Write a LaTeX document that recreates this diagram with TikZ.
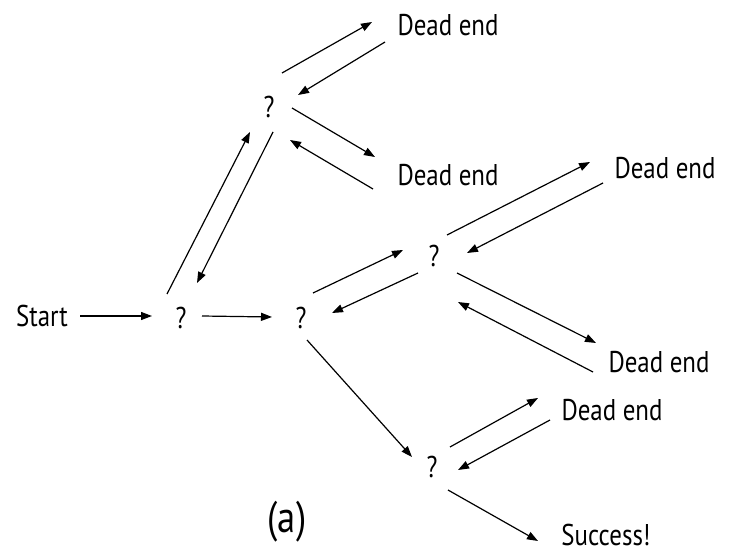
\documentclass[tikz,border=0pt]{standalone}
\usepackage{fontspec}
\setmainfont{PT Sans}[FakeStretch=0.83]
\usetikzlibrary{arrows.meta}
\tikzset{
  arr/.style={-{Triangle[length=11pt,width=8pt]}, line width=1.2pt},
}
\begin{document}
\begin{tikzpicture}[x=1pt, y=-1pt, font=\fontsize{30}{35}\selectfont]
\useasboundingbox (0,0) rectangle (731,556);
\node(S) at (42,316) {Start};
\node(q1) at (181,318) {?};
\node(q2) at (301,318) {?};
\node(q3) at (269,107) {?};
\node(q4) at (434,256) {?};
\node(q5) at (432,467) {?};
\node(D1) at (448,25) {Dead end};
\node(D2) at (448,175) {Dead end};
\node(D3) at (665,168) {Dead end};
\node(D4) at (659,362) {Dead end};
\node(D5) at (612,410) {Dead end};
\node(W) at (606,535) {Success!};
\node(lab) at (287,522) {\fontsize{44}{50}\selectfont(a)};
\path[arr]
([shift={(38,0)}]S.center) edge ([shift={(-29,-2)}]q1.center)
([shift={(21,-2)}]q1.center) edge ([shift={(-29,-1)}]q2.center)
% up to the first branch and back
([shift={(-14,-24)}]q1.center) edge ([shift={(-19,25)}]q3.center)
([shift={(4,25)}]q3.center) edge ([shift={(16,-35)}]q1.center)
([shift={(13,-34)}]q3.center) edge ([shift={(-76,-3)}]D1.center)
([shift={(-63,17)}]D1.center) edge ([shift={(29,-12)}]q3.center)
([shift={(23,1)}]q3.center) edge ([shift={(-73,-18)}]D2.center)
([shift={(-75,14)}]D2.center) edge ([shift={(21,33)}]q3.center)
% middle branch
([shift={(12,-25)}]q2.center) edge ([shift={(-31,-6)}]q4.center)
([shift={(-16,17)}]q4.center) edge ([shift={(31,-5)}]q2.center)
([shift={(13,-21)}]q4.center) edge ([shift={(-75,-6)}]D3.center)
([shift={(-62,15)}]D3.center) edge ([shift={(33,-3)}]q4.center)
([shift={(23,17)}]q4.center) edge ([shift={(-63,-19)}]D4.center)
([shift={(-66,10)}]D4.center) edge ([shift={(24,46)}]q4.center)
% lower branch
([shift={(6,22)}]q2.center) edge ([shift={(-20,-10)}]q5.center)
([shift={(18,-20)}]q5.center) edge ([shift={(-74,-12)}]D5.center)
([shift={(-62,10)}]D5.center) edge ([shift={(26,3)}]q5.center)
([shift={(16,23)}]q5.center) edge ([shift={(-68,6)}]W.center);
\end{tikzpicture}
\end{document}
